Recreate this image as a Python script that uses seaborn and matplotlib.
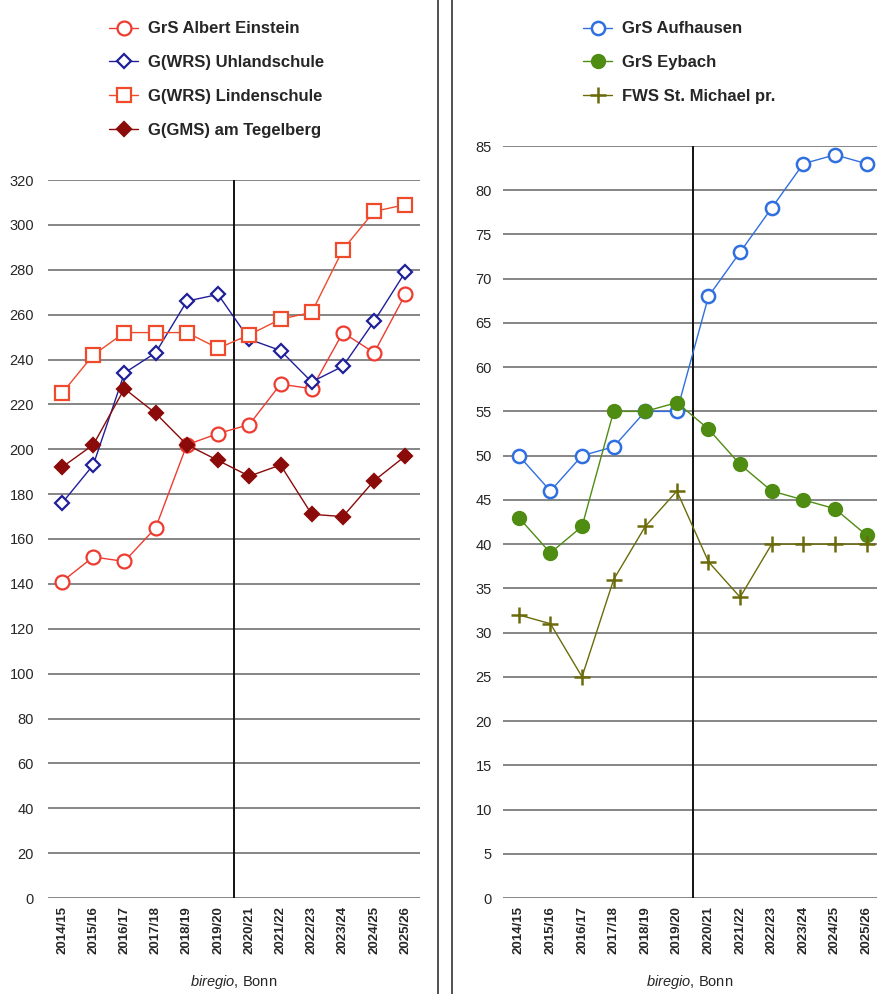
import numpy as np
import matplotlib
matplotlib.use("Agg")
import matplotlib.pyplot as plt
from matplotlib.lines import Line2D
import seaborn as sns

sns.set_style("white")
plt.rcParams['font.family'] = ['Liberation Sans', 'DejaVu Sans']
plt.rcParams['mathtext.fontset'] = 'custom'
plt.rcParams['mathtext.it'] = 'Liberation Sans:italic'
plt.rcParams['mathtext.rm'] = 'Liberation Sans'

years = ["2014/15", "2015/16", "2016/17", "2017/18", "2018/19", "2019/20",
         "2020/21", "2021/22", "2022/23", "2023/24", "2024/25", "2025/26"]

# Left panel
einstein = [141, 152, 150, 165, 202, 207, 211, 229, 227, 252, 243, 269]
uhland = [176, 193, 234, 243, 266, 269, 249, 244, 230, 237, 257, 279]
linden = [225, 242, 252, 252, 252, 245, 251, 258, 261, 289, 306, 309]
tegelberg = [192, 202, 227, 216, 202, 195, 188, 193, 171, 170, 186, 197]
left_ticks = list(range(0, 321, 20))

# Right panel
aufhausen = [50, 46, 50, 51, 55, 55, 68, 73, 78, 83, 84, 83]
eybach = [43, 39, 42, 55, 55, 56, 53, 49, 46, 45, 44, 41]
michael = [32, 31, 25, 36, 42, 46, 38, 34, 40, 40, 40, 40]
right_ticks = list(range(0, 86, 5))

x = np.arange(len(years))

fig = plt.figure(figsize=(8.77, 9.94), dpi=100)
axL = fig.add_axes([48/877, 1-898/994, (420-48)/877, (898-180)/994])
axR = fig.add_axes([503/877, 1-898/994, (877-503)/877, (898-146)/994])

def style_axes(ax, ticks, ymax, xlim, ypad):
    ax.set_ylim(0, ymax)
    ax.set_xlim(*xlim)
    ax.set_yticks(ticks)
    ax.set_yticklabels([str(t) for t in ticks], fontsize=10.5)
    ax.set_xticks(x)
    ax.set_xticklabels(years, rotation=90, fontsize=9.5, fontweight='bold')
    ax.tick_params(axis='both', length=0, pad=6)
    ax.tick_params(axis='y', pad=ypad)
    for s in ax.spines.values():
        s.set_visible(False)
    ax.grid(False)
    for t in ticks:
        ax.axhline(t, color='#858585', lw=1.4, zorder=0)
    ax.plot([5.5, 5.5], [0, ymax], color='#111111', lw=1.4, zorder=1)
    ax.set_xlabel(r"$\it{biregio}$, Bonn", fontsize=10.5, labelpad=13)
    ax.set_ylabel("")

series_L = [
    ("GrS Albert Einstein", einstein, '#ee3b30', 'o', 'white', 10),
    ("G(WRS) Uhlandschule", uhland, '#1f1f99', 'D', 'white', 7.5),
    ("G(WRS) Lindenschule", linden, '#f04a2c', 's', 'white', 10.5),
    ("G(GMS) am Tegelberg", tegelberg, '#8b0a0a', 'D', '#8b0a0a', 7.5),
]
for name, vals, col, mk, fc, ms in series_L:
    sns.lineplot(x=x, y=vals, ax=axL, color=col, lw=1.0, marker=mk,
                 markersize=ms, markerfacecolor=fc, markeredgecolor=col,
                 markeredgewidth=1.6, label=name, clip_on=False, zorder=3)

series_R = [
    ("GrS Aufhausen", aufhausen, '#2f6fe0', 'o', 'white', 9.5, 1.8),
    ("GrS Eybach", eybach, '#4f8c12', 'o', '#4f8c12', 10, 1.0),
    ("FWS St. Michael pr.", michael, '#6b6b0a', '+', '#6b6b0a', 11, 1.8),
]
for name, vals, col, mk, fc, ms, mew in series_R:
    sns.lineplot(x=x, y=vals, ax=axR, color=col, lw=1.0, marker=mk,
                 markersize=ms, markerfacecolor=fc, markeredgecolor=col,
                 markeredgewidth=mew, label=name, zorder=3)

style_axes(axL, left_ticks, 320, (-0.45, 11.47), 10)
style_axes(axR, right_ticks, 85, (-0.5, 11.33), 8)

hL, lL = axL.get_legend_handles_labels()
axL.get_legend().remove()
hR, lR = axR.get_legend_handles_labels()
axR.get_legend().remove()

fig.legend(hL, lL, loc='upper left', bbox_to_anchor=(101/877, 1-13/994),
           frameon=False, prop={'weight': 'bold', 'size': 12},
           handlelength=1.7, handletextpad=0.6, labelspacing=1.13, borderpad=0)
fig.legend(hR, lR, loc='upper left', bbox_to_anchor=(575/877, 1-13/994),
           frameon=False, prop={'weight': 'bold', 'size': 12},
           handlelength=1.7, handletextpad=0.6, labelspacing=1.13, borderpad=0)

for xp in (438, 452):
    fig.add_artist(Line2D([xp/877, xp/877], [0, 1], transform=fig.transFigure,
                          color='#444444', lw=1.3))

fig.savefig("out.png", dpi=100)
